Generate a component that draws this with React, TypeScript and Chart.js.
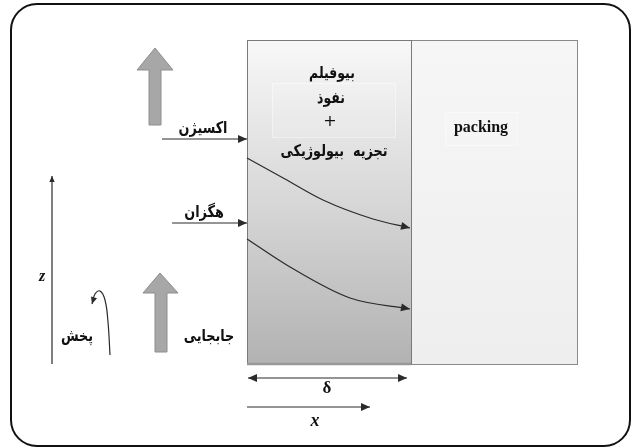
import { useEffect, useRef } from "react";
import { Chart, registerables } from "chart.js";
Chart.register(...registerables);

// Diagram space (0..632 x 0..448, y downward)
const frameBox = [11, 4, 630, 446];
const biofilmBox = [247, 40, 411, 364];
const packingBox = [411, 40, 577, 364];
const textBox = [272, 83, 395, 137];
const packingTextBox = [445, 112, 517, 145];

const upArrowTop = [[155, 48], [137, 70], [149, 70], [149, 125], [161, 125], [161, 70], [173, 70]];
const upArrowBottom = [[160, 273], [143, 293], [155, 293], [155, 352], [167, 352], [167, 293], [178, 293]];

const upperCurve = [[247, 158], [285, 179], [323, 200], [373, 219], [410, 228]];
const lowerCurve = [[247, 239], [290, 267], [350, 298], [410, 309]];
const oxygenArrow = [[162, 139], [247, 139]];
const hexaneArrow = [[172, 223], [247, 223]];
const zAxisArrow = [[52, 364], [52, 176]];
const deltaArrow = [[248, 378], [407, 378]];
const xArrow = [[247, 407], [370, 407]];
const diffusionCurl = [[110, 355], [108, 322], [105, 300], [100, 291], [95, 294], [92, 304]];

const labelTexts = ["بیوفیلم", "نفوذ", "+", "تجزیه  بیولوژیکی", "packing", "اکسیژن", "هگزان", "جابجایی", "پخش", "z", "δ", "x"];
const labelPos = [[332, 74], [331, 99], [330, 122], [334, 152], [481, 128], [203, 129], [204, 213], [209, 337], [77, 337], [42, 277], [327, 389], [315, 421]];
const labelFonts = [
  'bold 16px "DejaVu Sans"', 'bold 16px "DejaVu Sans"', '16px "DejaVu Sans"', 'bold 16px "DejaVu Sans"',
  'bold 16px "Liberation Serif"', 'bold 16px "DejaVu Sans"', 'bold 16px "DejaVu Sans"', 'bold 16px "DejaVu Sans"',
  'bold 16px "DejaVu Sans"', 'bold italic 16px "Liberation Serif"', 'bold 17px "Liberation Serif"', 'bold italic 18px "Liberation Serif"',
];
const labelSquash = [0.78, 0.78, 1, 0.8, 1, 0.8, 0.8, 0.8, 0.8, 1, 1, 1];

const toPts = (a: number[][]) => a.map(([x, y]) => ({ x, y }));

export default function App() {
  const ref = useRef<HTMLCanvasElement | null>(null);
  useEffect(() => {
    document.body.style.margin = "0";
    const canvas = ref.current!;
    const mk = (pts: number[][], extra: any = {}) => ({
      data: toPts(pts), showLine: true, pointRadius: 0, borderColor: "#2b2b2b", borderWidth: 1.2,
      tension: 0, fill: false, ...extra,
    });
    const datasets: any[] = [
      mk(upperCurve, { cubicInterpolationMode: "monotone", arrowEnd: true }),
      mk(lowerCurve, { cubicInterpolationMode: "monotone", arrowEnd: true }),
      mk(oxygenArrow, { arrowEnd: true }),
      mk(hexaneArrow, { arrowEnd: true }),
      mk(zAxisArrow, { arrowEnd: true, arrowSize: 6 }),
      mk(deltaArrow, { arrowEnd: true, arrowStart: true }),
      mk(xArrow, { arrowEnd: true }),
      mk(diffusionCurl, { tension: 0.4, arrowEnd: true, arrowSize: 7 }),
    ];

    const diagramPlugin = {
      id: "diagram",
      beforeDatasetsDraw(chart: any) {
        const ctx = chart.ctx as CanvasRenderingContext2D;
        const X = (v: number) => chart.scales.x.getPixelForValue(v);
        const Y = (v: number) => chart.scales.y.getPixelForValue(v);
        ctx.save();
        ctx.beginPath();
        const [fx0, fy0, fx1, fy1] = frameBox;
        (ctx as any).roundRect(X(fx0), Y(fy0), X(fx1) - X(fx0), Y(fy1) - Y(fy0), 26);
        ctx.fillStyle = "#ffffff";
        ctx.fill();
        ctx.lineWidth = 2;
        ctx.strokeStyle = "#111";
        ctx.stroke();
        const [px0, py0, px1, py1] = packingBox;
        const pg = ctx.createLinearGradient(0, Y(py0), 0, Y(py1));
        pg.addColorStop(0, "#f6f6f6");
        pg.addColorStop(1, "#eeeeee");
        ctx.fillStyle = pg;
        ctx.fillRect(X(px0), Y(py0), X(px1) - X(px0), Y(py1) - Y(py0));
        ctx.lineWidth = 1;
        ctx.strokeStyle = "#8a8a8a";
        ctx.strokeRect(X(px0) + 0.5, Y(py0) + 0.5, X(px1) - X(px0), Y(py1) - Y(py0));
        const [bx0, by0, bx1, by1] = biofilmBox;
        const bg = ctx.createLinearGradient(0, Y(by0), 0, Y(by1));
        bg.addColorStop(0, "#f8f8f8");
        bg.addColorStop(0.5, "#d7d7d7");
        bg.addColorStop(1, "#b2b2b2");
        ctx.fillStyle = bg;
        ctx.fillRect(X(bx0), Y(by0), X(bx1) - X(bx0), Y(by1) - Y(by0));
        ctx.strokeStyle = "#7a7a7a";
        ctx.strokeRect(X(bx0) + 0.5, Y(by0) + 0.5, X(bx1) - X(bx0), Y(by1) - Y(by0));
        ctx.beginPath();
        ctx.moveTo(X(bx0), Y(by1));
        ctx.lineTo(X(bx1), Y(by1));
        ctx.lineWidth = 2.5;
        ctx.strokeStyle = "#999";
        ctx.stroke();
        ctx.lineWidth = 1;
        for (const b of [textBox, packingTextBox]) {
          ctx.strokeStyle = "rgba(255,255,255,0.45)";
          ctx.fillStyle = "rgba(255,255,255,0.12)";
          ctx.fillRect(X(b[0]), Y(b[1]), X(b[2]) - X(b[0]), Y(b[3]) - Y(b[1]));
          ctx.strokeRect(X(b[0]) + 0.5, Y(b[1]) + 0.5, X(b[2]) - X(b[0]), Y(b[3]) - Y(b[1]));
        }
        for (const poly of [upArrowTop, upArrowBottom]) {
          ctx.beginPath();
          poly.forEach(([x, y], i) => (i ? ctx.lineTo(X(x), Y(y)) : ctx.moveTo(X(x), Y(y))));
          ctx.closePath();
          ctx.fillStyle = "#a7a7a7";
          ctx.fill();
          ctx.strokeStyle = "#8e8e8e";
          ctx.lineWidth = 1;
          ctx.stroke();
        }
        ctx.restore();
      },
      afterDatasetsDraw(chart: any) {
        const ctx = chart.ctx as CanvasRenderingContext2D;
        const X = (v: number) => chart.scales.x.getPixelForValue(v);
        const Y = (v: number) => chart.scales.y.getPixelForValue(v);
        ctx.save();
        const head = (tx: number, ty: number, fx: number, fy: number, size: number) => {
          const a = Math.atan2(ty - fy, tx - fx);
          const w = size * 0.45;
          ctx.beginPath();
          ctx.moveTo(tx, ty);
          ctx.lineTo(tx - size * Math.cos(a) + w * Math.sin(a), ty - size * Math.sin(a) - w * Math.cos(a));
          ctx.lineTo(tx - size * Math.cos(a) - w * Math.sin(a), ty - size * Math.sin(a) + w * Math.cos(a));
          ctx.closePath();
          ctx.fillStyle = "#2b2b2b";
          ctx.fill();
        };
        chart.data.datasets.forEach((ds: any, i: number) => {
          const pts = chart.getDatasetMeta(i).data as any[];
          const n = pts.length;
          const size = ds.arrowSize || 9;
          if (ds.arrowEnd) {
            const last = pts[n - 1];
            let fx = last.cp1x, fy = last.cp1y;
            if (fx === undefined || (Math.abs(fx - last.x) < 0.5 && Math.abs(fy - last.y) < 0.5)) {
              fx = pts[n - 2].x; fy = pts[n - 2].y;
            }
            head(last.x, last.y, fx, fy, size);
          }
          if (ds.arrowStart) {
            const first = pts[0];
            head(first.x, first.y, pts[1].x, pts[1].y, size);
          }
        });
        ctx.textAlign = "center";
        ctx.textBaseline = "middle";
        ctx.fillStyle = "#111";
        labelTexts.forEach((t, i) => {
          ctx.save();
          ctx.font = labelFonts[i];
          ctx.translate(X(labelPos[i][0]), Y(labelPos[i][1]));
          ctx.scale(labelSquash[i], 1);
          ctx.fillText(t, 0, 0);
          ctx.restore();
        });
        ctx.restore();
      },
    };

    const chart = new Chart(canvas, {
      type: "scatter",
      data: { datasets },
      options: {
        animation: false,
        responsive: false,
        events: [],
        layout: { padding: 0 },
        plugins: { legend: { display: false }, tooltip: { enabled: false } },
        scales: {
          x: { type: "linear", min: 0, max: 632, display: false },
          y: { type: "linear", min: 0, max: 448, reverse: true, display: false },
        },
      },
      plugins: [diagramPlugin],
    } as any);
    return () => chart.destroy();
  }, []);
  return <canvas ref={ref} width={632} height={448} style={{ display: "block" }} />;
}
